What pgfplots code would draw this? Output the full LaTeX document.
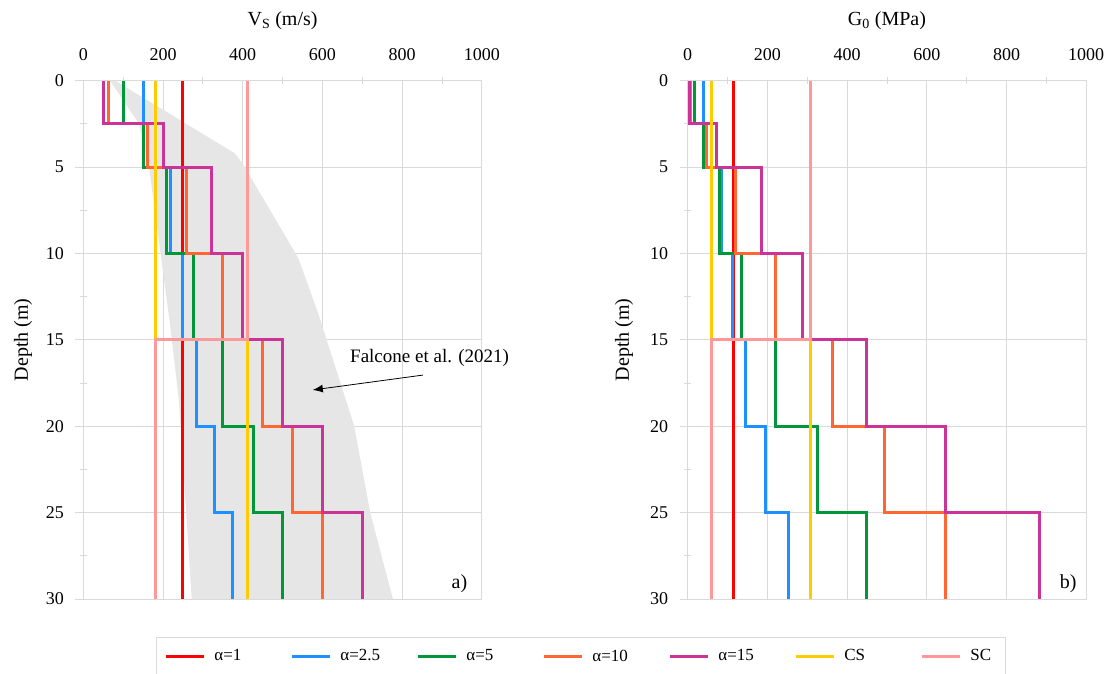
\documentclass[border=0pt]{standalone}
\usepackage{pgfplots}
\pgfplotsset{compat=1.18}
\usepackage{fontspec}
\setmainfont{Liberation Serif}
\usetikzlibrary{arrows.meta}
\definecolor{cred}{RGB}{255,0,0}
\definecolor{cblue}{RGB}{30,144,255}
\definecolor{cgreen}{RGB}{0,150,57}
\definecolor{corange}{RGB}{255,102,51}
\definecolor{cpurple}{RGB}{204,51,153}
\definecolor{cyellow}{RGB}{255,204,0}
\definecolor{cpink}{RGB}{255,153,153}
\definecolor{cgrid}{RGB}{217,217,217}
\definecolor{carea}{RGB}{230,230,230}
\pgfplotsset{prof/.style={
  scale only axis, width=398.5pt, height=518.3pt,
  xmin=0, xmax=1000, ymin=0, ymax=30, y dir=reverse,
  xtick={0,200,...,1000}, ytick={0,5,...,30},
  minor xtick={100,300,...,900}, minor ytick={2.5,7.5,...,27.5},
  xtick pos=upper, ytick pos=left,
  xticklabel pos=upper, yticklabel pos=left,
  grid=major, major grid style={cgrid, line width=0.8pt},
  axis line style={cgrid, line width=0.8pt},
  tick style={cgrid, line width=0.8pt},
  tick align=center, major tick length=16pt, minor tick length=7pt,
  every major x tick/.style={draw=none},
  ticklabel style={font=\fontsize{18}{20}\selectfont},
  xticklabel style={yshift=8pt},
  yticklabel style={xshift=-8pt},
  /pgf/number format/assume math mode=true,
  /pgf/number format/1000 sep={},
  label style={font=\fontsize{20}{24}\selectfont},
  title style={at={(0.5,1)}, anchor=center, yshift=54pt, font=\fontsize{20}{24}\selectfont},
  every axis plot/.append style={line width=3pt},
  legend image code/.code={\draw[#1] (0pt,0pt) -- (38pt,0pt);},
}}
\begin{document}
\begin{tikzpicture}[x=1pt,y=1pt]
\useasboundingbox (0,0) rectangle (1106,674);
% ---------------- left: Vs
\begin{axis}[prof, at={(83.3pt,75pt)}, anchor=south west, clip=false,
  title={V\textsubscript{S} (m/s)},
  ylabel={Depth (m)},
  ylabel style={at={(axis description cs:-0.151,0.5)}, anchor=center},
  legend columns=7,
  legend style={at={(axis description cs:0.1824,-0.0739)}, anchor=north west,
    draw=cgrid, line width=0.8pt, inner xsep=8pt, inner ysep=12pt,
    font=\fontsize{17}{20}\selectfont,
    /tikz/every odd column/.style={column sep=9pt},
    nodes={inner sep=0pt, anchor=west}},
]
\addplot[fill=carea, draw=none, line width=0pt, forget plot] coordinates {
 (67,0) (140,2.5) (165,5) (217,14) (240,18.5) (272,30)
 (777,30) (720,25) (680,20) (590,13.5) (540,10.3) (520,9.5) (400,4.8) (380,4.2) (80,0)
} -- cycle;
\addplot[cred] coordinates {(250,0) (250,30)};
\addplot[cblue] coordinates {(150,0) (150,5) (218,5) (218,10) (250,10) (250,15) (284,15) (284,20) (330,20) (330,25) (375,25) (375,30)};
\addplot[cgreen] coordinates {(100,0) (100,2.5) (150,2.5) (150,5) (210,5) (210,10) (276,10) (276,15) (350,15) (350,20) (426,20) (426,25) (500,25) (500,30)};
\addplot[corange] coordinates {(62,0) (62,2.5) (160,2.5) (160,5) (260,5) (260,10) (350,10) (350,15) (450,15) (450,20) (525,20) (525,25) (600,25) (600,30)};
\addplot[cpurple] coordinates {(50,0) (50,2.5) (202,2.5) (202,5) (322,5) (322,10) (400,10) (400,15) (500,15) (500,20) (600,20) (600,25) (700,25) (700,30)};
\addplot[cyellow] coordinates {(180,0) (180,15) (412,15) (412,30)};
\addplot[cpink] coordinates {(412,0) (412,15) (180,15) (180,30)};
\legend{\makebox[76pt][l]{α=1},\makebox[76pt][l]{α=2.5},\makebox[76pt][l]{α=5},\makebox[76pt][l]{α=10},\makebox[76pt][l]{α=15},\makebox[76pt][l]{CS},\makebox[27pt][l]{SC}}
\node[font=\fontsize{19}{22}\selectfont] at (axis cs:869,16.06) {Falcone et al. (2021)};
\draw[-{Latex[length=10pt,width=8pt]}, line width=0.8pt, black] (axis cs:852,17.04) -- (axis cs:576,17.9);
\node[font=\fontsize{20}{24}\selectfont] at (axis cs:944,29.1) {a)};
\end{axis}
% ---------------- right: G0
\begin{axis}[prof, at={(687.7pt,75pt)}, anchor=south west,
  title={G\textsubscript{0} (MPa)},
  ylabel={Depth (m)},
  ylabel style={at={(axis description cs:-0.16,0.5)}, anchor=center},
]
\addplot[cred] coordinates {(114,0) (114,30)};
\addplot[cblue] coordinates {(40.5,0) (40.5,5) (85.5,5) (85.5,10) (113,10) (113,15) (145,15) (145,20) (196,20) (196,25) (254,25) (254,30)};
\addplot[cgreen] coordinates {(18,0) (18,2.5) (40,2.5) (40,5) (79.5,5) (79.5,10) (136,10) (136,15) (221,15) (221,20) (325,20) (325,25) (449,25) (449,30)};
\addplot[corange] coordinates {(6.9,0) (6.9,2.5) (47,2.5) (47,5) (121,5) (121,10) (221,10) (221,15) (363,15) (363,20) (495,20) (495,25) (648,25) (648,30)};
\addplot[cpurple] coordinates {(4.5,0) (4.5,2.5) (73,2.5) (73,5) (186,5) (186,10) (288,10) (288,15) (449,15) (449,20) (648,20) (648,25) (882,25) (882,30)};
\addplot[cyellow] coordinates {(59,0) (59,15) (309,15) (309,30)};
\addplot[cpink] coordinates {(309,0) (309,15) (59,15) (59,30)};
\node[font=\fontsize{20}{24}\selectfont] at (axis cs:955,29.1) {b)};
\end{axis}
\end{tikzpicture}
\end{document}
